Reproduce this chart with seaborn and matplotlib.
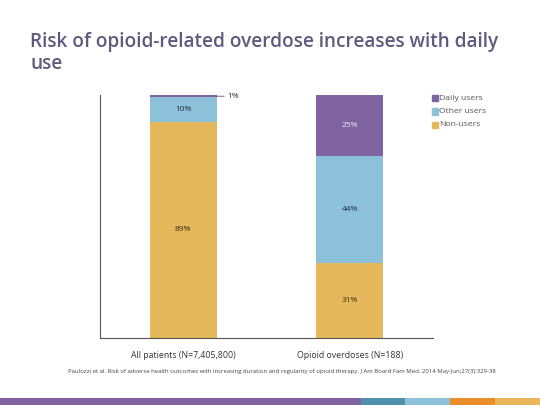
import numpy as np
import pandas as pd
import matplotlib
matplotlib.use('Agg')
import matplotlib.pyplot as plt
import seaborn as sns
from matplotlib.patches import Rectangle

categories = ['All patients (N=7,405,800)', 'Opioid overdoses (N=188)']
non_users = [89, 31]
other_users = [10, 44]
daily_users = [1, 25]
series_names = ['Daily users', 'Other users', 'Non-users']

title = 'Risk of opioid-related overdose increases with daily\nuse'
source = ('Paulozzi et al. Risk of adverse health outcomes with increasing duration and '
          'regularity of opioid therapy. J Am Board Fam Med. 2014 May-Jun;27(3):329-38')

PURPLE = '#8064A2'
BLUE = '#8DC1DA'
ORANGE = '#E6B85C'


def main():
    sns.set_theme(style='white')
    plt.rcParams['font.family'] = ['Open Sans', 'DejaVu Sans']

    fig = plt.figure(figsize=(5.4, 4.05), dpi=100)
    ax = fig.add_axes([100 / 540, 67 / 405, 333 / 540, 243 / 405])

    df = pd.DataFrame({'cat': categories, 'non': non_users,
                       'other': other_users, 'daily': daily_users})
    df['c2'] = df['non'] + df['other']
    df['c3'] = df['c2'] + df['daily']

    # stacked bars: draw cumulative totals from the top down
    for col, colr in [('c3', PURPLE), ('c2', BLUE), ('non', ORANGE)]:
        sns.barplot(data=df, x='cat', y=col, color=colr, width=0.4,
                    saturation=1, ax=ax, linewidth=0)

    ax.set_xlim(-0.5, 1.5)
    ax.set_ylim(0, 100)
    ax.set_xlabel('')
    ax.set_ylabel('')
    ax.set_yticks([])
    ax.tick_params(axis='x', labelsize=6.3, colors='#333333', length=0, pad=9)
    ax.set_xticks([-0.5, 0.5, 1.5], minor=True)
    ax.tick_params(axis='x', which='minor', length=5, width=0.8, color='#555555', direction='out')
    for s in ['top', 'right']:
        ax.spines[s].set_visible(False)
    ax.spines['left'].set_color('#555555')
    ax.spines['bottom'].set_color('#555555')
    ax.spines['left'].set_linewidth(0.8)
    ax.spines['bottom'].set_linewidth(0.8)

    # segment labels
    for i in range(len(categories)):
        n, o, d = non_users[i], other_users[i], daily_users[i]
        ax.text(i, n / 2, f'{n}%', ha='center', va='center', fontsize=6, color='#3A2A10')
        ax.text(i, n + o / 2, f'{o}%', ha='center', va='center', fontsize=6, color='#1F2A44')
        if d >= 5:
            ax.text(i, n + o + d / 2, f'{d}%', ha='center', va='center', fontsize=6, color='#F0EAF6')
    d0 = daily_users[0]
    top0 = non_users[0] + other_users[0] + d0 / 2
    ax.annotate(f'{d0}%', xy=(0.2, top0), xytext=(0.265, top0),
                fontsize=6, color='#333333', va='center',
                arrowprops=dict(arrowstyle='-', color='#555555', lw=0.6, shrinkA=0, shrinkB=0))

    # legend
    for k, (name, colr) in enumerate(zip(series_names, [PURPLE, BLUE, ORANGE])):
        y = 98 + k * 13.5
        fig.patches.append(Rectangle((432 / 540, 1 - (y + 3) / 405), 6 / 540, 6 / 405,
                                     transform=fig.transFigure, color=colr))
        fig.text(439 / 540, 1 - y / 405, name, fontsize=6.1, color='#555555', va='center')

    fig.text(30 / 540, 1 - 32 / 405, title, fontsize=13.7, color='#5F5A7E', weight='semibold',
             va='top', ha='left', linespacing=1.15)
    fig.text(68 / 540, 1 - 372 / 405, source, fontsize=4.35, color='#444444', va='center')

    # bottom colour strip
    strip = [(0, 361, PURPLE), (361, 405, '#4F90AC'), (405, 450, '#8DC1DA'),
             (450, 495, '#E98E2A'), (495, 540, '#EAB75C')]
    for x0, x1, colr in strip:
        fig.patches.append(Rectangle((x0 / 540, 0), (x1 - x0) / 540, 7 / 405,
                                     transform=fig.transFigure, color=colr, lw=0))

    fig.savefig('out.png', dpi=100)
    plt.close(fig)


if __name__ == '__main__':
    main()
